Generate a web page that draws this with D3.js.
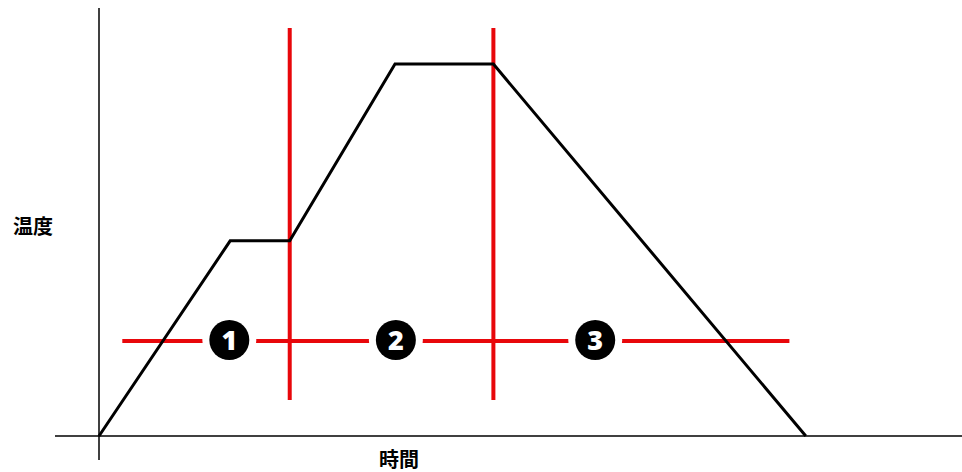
<!DOCTYPE html>
<html>
<head>
<meta charset="utf-8">
<script src="https://cdn.jsdelivr.net/npm/d3@7"></script>
<style>
  body { margin: 0; background: #fff; }
  svg { display: block; }
</style>
</head>
<body>
<div id="chart"></div>
<script>
// profile: time vs temperature (arbitrary units 0-100)
var profileTime = [0, 15.2, 22.1, 34.3, 45.7, 81.9];
var profileTemp = [0, 45.6, 45.6, 86.9, 86.9, 0];

// red stage dividers
var dividerTime = [22.1, 45.7];
var dividerTempRange = [8.4, 95.3];

// horizontal red guide
var guideTemp = 22.2;
var guideTimeRange = [2.7, 80.0];

// stage markers
var stageLabels = ["1", "2", "3"];
var stageTime = [15.1, 34.4, 57.5];

var axisLabels = { x: "時間", y: "温度" };

var width = 962, height = 472;

var svg = d3.select("#chart").append("svg")
  .attr("width", width)
  .attr("height", height);

var x = d3.scaleLinear().domain([0, 100]).range([99, 962]);
var y = d3.scaleLinear().domain([0, 100]).range([436, 8]);

// axes
svg.append("line")
  .attr("x1", x(0)).attr("x2", x(0))
  .attr("y1", y(100)).attr("y2", y(-5.6))
  .attr("stroke", "#000").attr("stroke-width", 1.5);

svg.append("line")
  .attr("x1", x(-5.1)).attr("x2", x(100))
  .attr("y1", y(0)).attr("y2", y(0))
  .attr("stroke", "#000").attr("stroke-width", 1.5);

// red guide line
svg.append("line")
  .attr("x1", x(guideTimeRange[0])).attr("x2", x(guideTimeRange[1]))
  .attr("y1", y(guideTemp)).attr("y2", y(guideTemp))
  .attr("stroke", "#e8070b").attr("stroke-width", 4);

// red dividers
svg.selectAll(".divider")
  .data(dividerTime)
  .enter().append("line")
  .attr("class", "divider")
  .attr("x1", function(d) { return x(d); })
  .attr("x2", function(d) { return x(d); })
  .attr("y1", y(dividerTempRange[1]))
  .attr("y2", y(dividerTempRange[0]))
  .attr("stroke", "#e8070b").attr("stroke-width", 4);

// profile line
var pts = profileTime.map(function(t, i) { return [t, profileTemp[i]]; });
svg.append("path")
  .datum(pts)
  .attr("fill", "none")
  .attr("stroke", "#000")
  .attr("stroke-width", 3)
  .attr("stroke-linejoin", "miter")
  .attr("d", d3.line()
    .x(function(d) { return x(d[0]); })
    .y(function(d) { return y(d[1]); }));

// numbered markers
var marker = svg.selectAll(".marker")
  .data(stageLabels)
  .enter().append("g")
  .attr("class", "marker")
  .attr("transform", function(d, i) {
    return "translate(" + x(stageTime[i]) + "," + (y(guideTemp) - 1) + ")";
  });

marker.append("circle").attr("r", 27).attr("fill", "#fff");
marker.append("circle").attr("r", 20).attr("fill", "#000");
marker.append("text")
  .attr("text-anchor", "middle")
  .attr("dy", "0.36em")
  .attr("fill", "#fff")
  .style("font-family", "'Noto Sans', 'DejaVu Sans', sans-serif")
  .style("font-weight", "900")
  .style("font-size", "27px")
  .text(function(d) { return d; });

// axis titles
svg.append("text")
  .attr("x", 33).attr("y", 227)
  .attr("text-anchor", "middle")
  .attr("dy", "0.36em")
  .style("font-family", "'Noto Sans CJK JP', sans-serif")
  .style("font-weight", "bold")
  .style("font-size", "20px")
  .text(axisLabels.y);

svg.append("text")
  .attr("x", 399).attr("y", 460)
  .attr("text-anchor", "middle")
  .attr("dy", "0.36em")
  .style("font-family", "'Noto Sans CJK JP', sans-serif")
  .style("font-weight", "bold")
  .style("font-size", "20px")
  .text(axisLabels.x);
</script>
</body>
</html>
